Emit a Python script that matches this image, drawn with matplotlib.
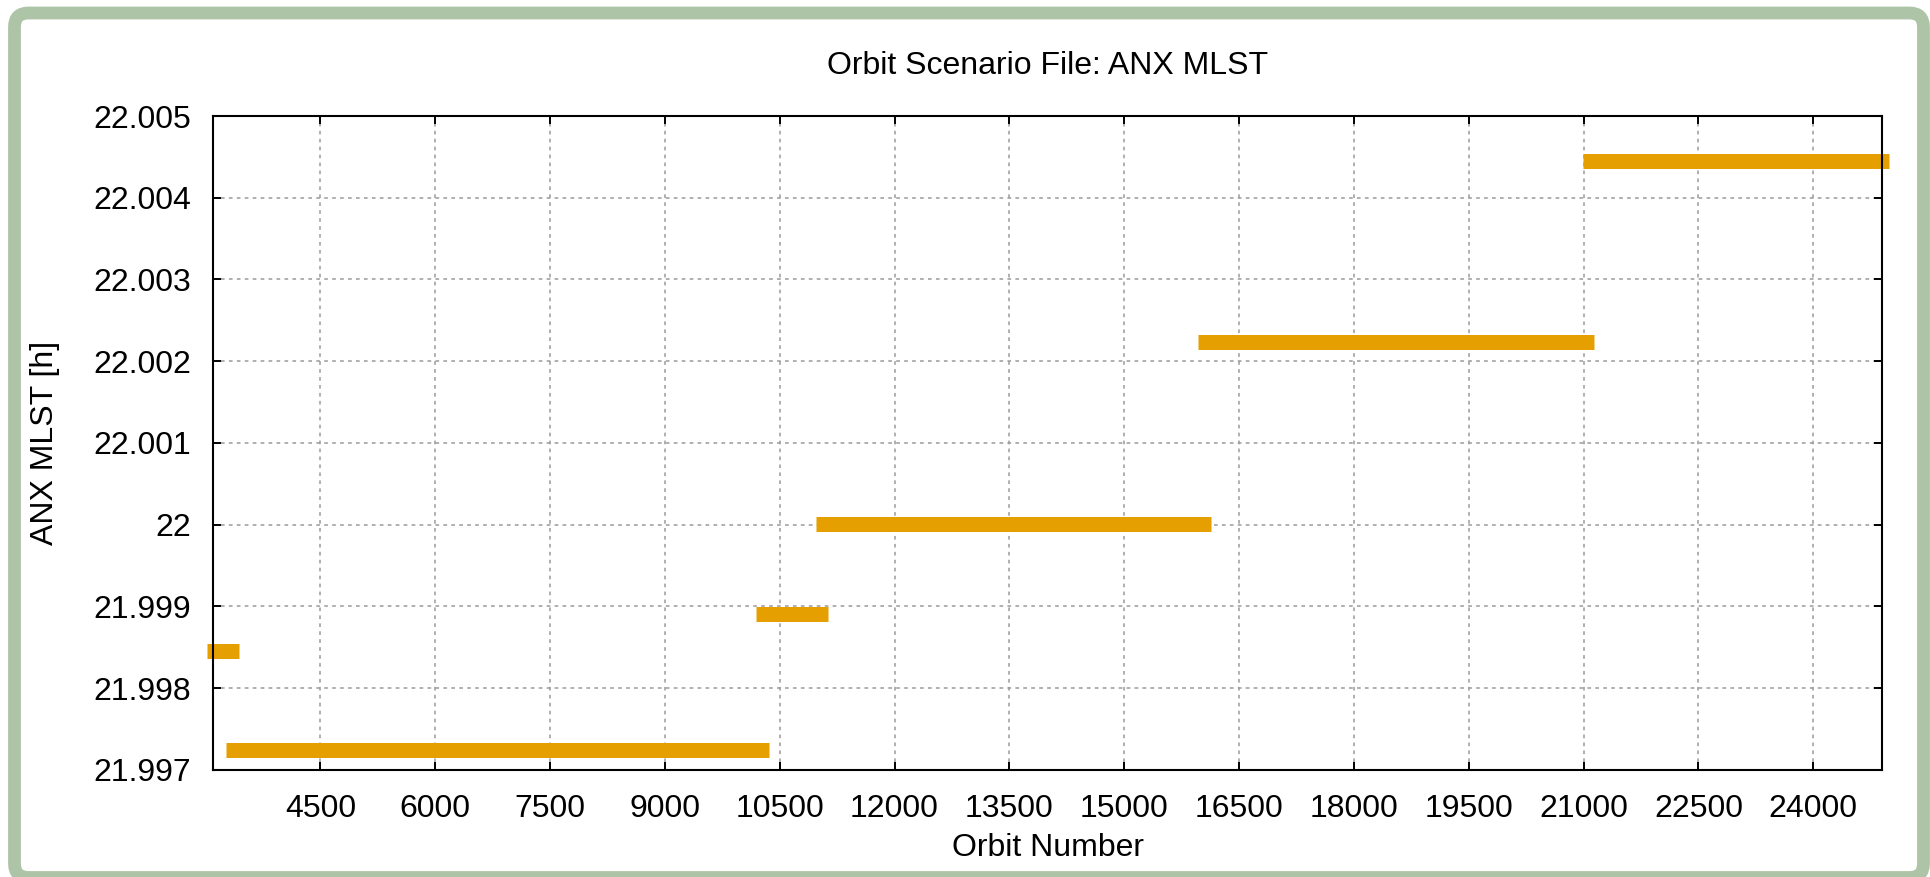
import matplotlib
matplotlib.use("Agg")
import matplotlib.pyplot as plt
from matplotlib.patches import FancyBboxPatch
from matplotlib.ticker import FuncFormatter

# ---- data ----
seg_start = [3016, 3264, 10190, 10970, 15968, 20988]
seg_end = [3438, 10360, 11135, 16133, 21136, 24989]
anx_mlst = [21.99846, 21.99724, 21.99891, 22.00001, 22.00223, 22.00445]

x_ticks = [4500, 6000, 7500, 9000, 10500, 12000, 13500, 15000, 16500, 18000, 19500, 21000, 22500, 24000]
y_ticks = [21.997, 21.998, 21.999, 22.000, 22.001, 22.002, 22.003, 22.004, 22.005]

title = "Orbit Scenario File: ANX MLST"
x_label = "Orbit Number"
y_label = "ANX MLST [h]"

plt.rcParams['font.family'] = ['Liberation Sans', 'DejaVu Sans']
FS = 23

fig = plt.figure(figsize=(19.30, 8.77), dpi=100)
fig.patch.set_facecolor('white')

# green rounded frame
frame = FancyBboxPatch((0.145, -0.005), 19.235 - 0.145, 8.64 + 0.005,
                       boxstyle="round,pad=0,rounding_size=0.14",
                       transform=fig.dpi_scale_trans, facecolor='none',
                       edgecolor='#adc4a6', linewidth=9.2, zorder=0)
fig.patches.append(frame)

ax = fig.add_axes([0.11052, 0.12201, 0.97528 - 0.11052, 0.86773 - 0.12201])

for xs, xe, v in zip(seg_start, seg_end, anx_mlst):
    ax.plot([xs, xe], [v, v], color='#E69F00', linewidth=10.8,
            solid_capstyle='butt', clip_on=False, zorder=3)

ax.set_xlim(3102, 24901)
ax.set_ylim(21.997, 22.005)
ax.set_xticks(x_ticks)
ax.set_yticks(y_ticks)
ax.yaxis.set_major_formatter(FuncFormatter(lambda v, p: f"{round(v, 3):g}"))

ax.grid(True, color='#9a9a9a', linewidth=1.1, linestyle=(0, (2.4, 2.8)), zorder=1)
ax.set_axisbelow(True)

for s in ax.spines.values():
    s.set_linewidth(1.5)
    s.set_color('black')
    s.set_zorder(4)

ax.tick_params(direction='in', length=6, width=1.4, top=True, right=True,
               labelsize=FS, colors='black')
ax.tick_params(axis='x', pad=17)
ax.tick_params(axis='y', pad=16)

ax.set_title(title, fontsize=FS, pad=30)
ax.set_xlabel(x_label, fontsize=FS, labelpad=7)
ax.set_ylabel(y_label, fontsize=FS, labelpad=24)

fig.savefig("out.png", dpi=100, facecolor='white')
